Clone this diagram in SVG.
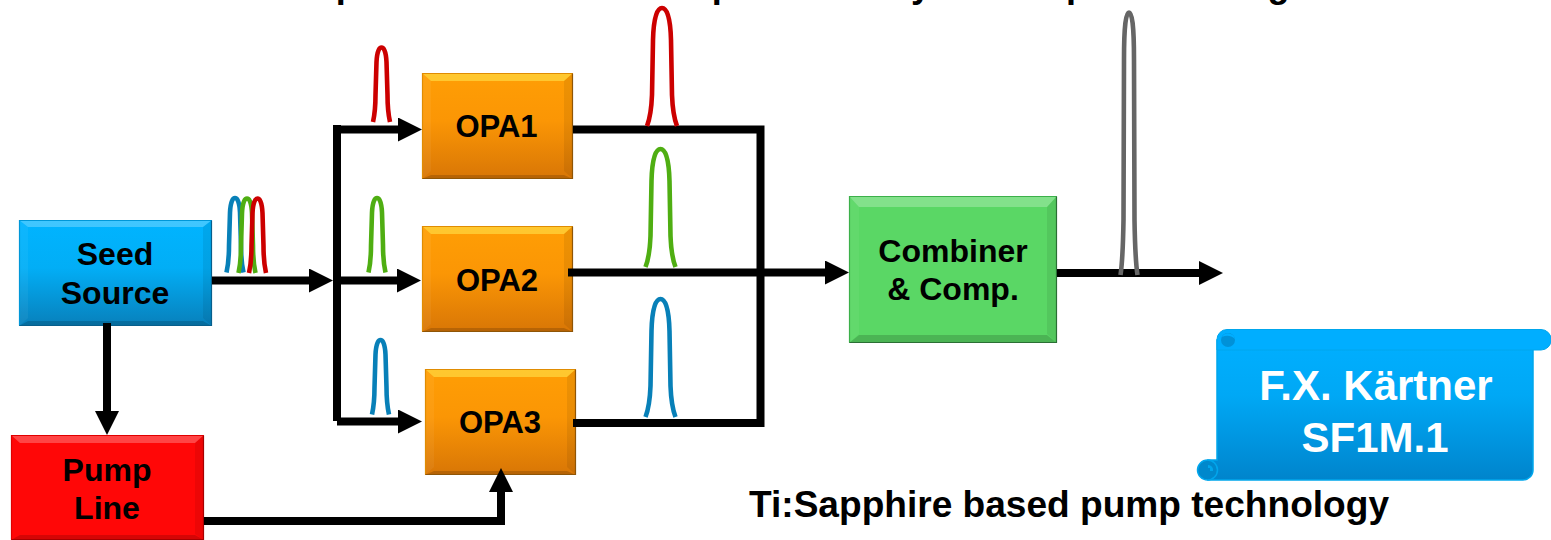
<svg xmlns="http://www.w3.org/2000/svg" xmlns:xlink="http://www.w3.org/1999/xlink" width="1551" height="540" viewBox="0 0 1551 540">
<style>
text{font-family:"Liberation Sans",Arial,sans-serif;font-weight:700;fill:#000}
.c{text-anchor:middle}
.lb{font-size:32px}
.op{font-size:31px}
.w{fill:#fff;font-size:42px;text-anchor:middle}
.cut{font-size:36px}
.wire{fill:none;stroke:#000;stroke-width:8;stroke-linejoin:miter}
.p{fill:none;stroke-width:4.600}
.red{stroke:#cc0000}.grn{stroke:#4fae12}.blu{stroke:#0880b8}.gry{stroke:#666}
.hi{fill:#fff;opacity:.25}.lo{fill:#000;opacity:.16}.sd{fill:#000;opacity:.07}.lf{fill:#fff;opacity:.05}
.e{fill:none;stroke-width:1.200}
.yl{fill:#ffd23a;opacity:.8}
.otl{stroke:#e08c02}.orb{stroke:#8f5506}
</style>
<defs>
<marker id="ah" viewBox="0 0 24 24" markerUnits="userSpaceOnUse" markerWidth="24" markerHeight="24" refX="0" refY="12" orient="auto"><path d="M0 0L24 12L0 24Z" fill="#000"/></marker>
<linearGradient id="gO" x1="0" y1="0" x2="0" y2="1"><stop offset="0" stop-color="#ff9e05"/><stop offset=".45" stop-color="#fb9605"/><stop offset="1" stop-color="#d87606"/></linearGradient>
<linearGradient id="gB" x1="0" y1="0" x2="0" y2="1"><stop offset="0" stop-color="#00b4ff"/><stop offset=".45" stop-color="#02aef6"/><stop offset="1" stop-color="#0880bb"/></linearGradient>
<linearGradient id="gS" x1="0" y1="0" x2="0" y2="1"><stop offset="0" stop-color="#00afff"/><stop offset=".4" stop-color="#00a8f5"/><stop offset="1" stop-color="#0084cc"/></linearGradient>
<path id="ps" d="M-8.500 74.500C-6.500 65.500-6 57.500-6 47.500L-5 14.500C-4.500 4.500-2.500 0 0 0C2.500 0 4.500 4.500 5 14.500L6 47.500C6 57.500 6.500 65.500 8.500 74.500"/>
<path id="pl" d="M-15 118C-11.500 109-10.500 100-10 87L-9 32C-8.500 12-5.500 0 0 0C5.500 0 8.500 12 9 32L10 87C10.500 100 11.500 109 15 118"/>
</defs>

<g id="title-fragments">
<text class="cut" x="335.700" y="-3">p</text>
<text class="cut" x="711.700" y="-3">p</text>
<text class="cut" x="911" y="-3">y</text>
<text class="cut" x="1066" y="-3">p</text>
<text class="cut" x="1267.500" y="-3">g</text>
</g>

<g id="seed-source">
<rect x="19" y="220" width="193" height="106" fill="url(#gB)"/>
<path class="hi" d="M19 220H212L203 227H28Z"/><path class="lf" d="M19 220L28 227V318L19 326Z"/>
<path class="sd" d="M212 220L203 227V318L212 326Z"/><path class="lo" d="M19 326L28 321H203L212 326Z"/>
<path class="e" stroke="#0097d8" d="M19.500 325.500V220.500H211.500"/><path class="e" stroke="#075f8c" d="M211.500 220.500V325.500H19.500"/>
<text class="c lb" x="115" y="264.500">Seed</text><text class="c lb" x="115" y="304">Source</text>
</g>
<g id="pump-line">
<rect x="11" y="435" width="193" height="105" fill="#ff0707"/>
<path class="hi" d="M11 435H204L195 443H20Z"/><path class="sd" d="M204 435L195 443V534L204 540Z"/>
<path class="lo" d="M11 540L20 535H195L204 540Z"/>
<path class="e" stroke="#e00000" d="M11.500 539.500V435.500H203.500"/><path class="e" stroke="#a80000" d="M203.500 435.500V539.500H11.500"/>
<text class="c lb" x="107" y="481">Pump</text><text class="c lb" x="107" y="519">Line</text>
</g>
<g id="opa1">
<rect x="422" y="73" width="151" height="106" fill="url(#gO)"/>
<path class="yl" d="M422 73H573L564 81H431Z"/><path class="lf" d="M422 73L431 81V171L422 179Z"/>
<path class="sd" d="M573 73L564 81V171L573 179Z"/><path class="lo" d="M422 179L431 175H564L573 179Z"/>
<path class="e otl" d="M422.500 178.500V73.500H572.500"/><path class="e orb" d="M572.500 73.500V178.500H422.500"/>
<text class="c op" x="496.500" y="137">OPA1</text>
</g>
<g id="opa2">
<rect x="422" y="226" width="151" height="106" fill="url(#gO)"/>
<path class="yl" d="M422 226H573L564 234H431Z"/><path class="lf" d="M422 226L431 234V324L422 332Z"/>
<path class="sd" d="M573 226L564 234V324L573 332Z"/><path class="lo" d="M422 332L431 328H564L573 332Z"/>
<path class="e otl" d="M422.500 331.500V226.500H572.500"/><path class="e orb" d="M572.500 226.500V331.500H422.500"/>
<text class="c op" x="497" y="290.500">OPA2</text>
</g>
<g id="opa3">
<rect x="425" y="369" width="151" height="106" fill="url(#gO)"/>
<path class="yl" d="M425 369H576L567 377H434Z"/><path class="lf" d="M425 369L434 377V467L425 475Z"/>
<path class="sd" d="M576 369L567 377V467L576 475Z"/><path class="lo" d="M425 475L434 471H567L576 475Z"/>
<path class="e otl" d="M425.500 474.500V369.500H575.500"/><path class="e orb" d="M575.500 369.500V474.500H425.500"/>
<text class="c op" x="500" y="433">OPA3</text>
</g>
<g id="combiner">
<rect x="849" y="196" width="208" height="147" fill="#5ad765"/>
<path class="hi" d="M849 196H1057L1047 207H859Z"/><path class="lf" d="M849 196L859 207V334L849 343Z"/>
<path class="sd" d="M1057 196L1047 207V334L1057 343Z"/><path class="lo" d="M849 343L859 335H1047L1057 343Z"/>
<path class="e" stroke="#3cb04a" d="M849.500 342.500V196.500H1056.500"/><path class="e" stroke="#2a6f34" d="M1056.500 196.500V342.500H849.500"/>
<text class="c lb" x="953" y="261.500">Combiner</text><text class="c lb" x="953" y="299.500">&amp; Comp.</text>
</g>

<g id="connectors">
<path class="wire" d="M212 280.500H309" marker-end="url(#ah)"/>
<path class="wire" d="M337 125V421"/>
<path class="wire" d="M333 129.500H398" marker-end="url(#ah)"/>
<path class="wire" d="M337 280.500H397" marker-end="url(#ah)"/>
<path class="wire" d="M337 421.500H398" marker-end="url(#ah)"/>
<path class="wire" d="M573 129.500H760.500V423H573"/>
<path class="wire" d="M568 272.500H825" marker-end="url(#ah)"/>
<path class="wire" d="M1057 273H1199" marker-end="url(#ah)"/>
<path class="wire" d="M107 323V411" marker-end="url(#ah)"/>
<path class="wire" d="M204 521H501V492" marker-end="url(#ah)"/>
</g>

<g id="pulses">
<use href="#ps" class="p blu" x="235" y="198"/>
<use href="#ps" class="p grn" x="247" y="198.500"/>
<use href="#ps" class="p red" x="257.500" y="198.500"/>
<use href="#ps" class="p red" x="381.500" y="47.500"/>
<use href="#ps" class="p grn" x="377" y="198"/>
<use href="#ps" class="p blu" x="380.500" y="340"/>
<use href="#pl" class="p red" x="662" y="8"/>
<use href="#pl" class="p grn" x="660.500" y="149"/>
<use href="#pl" class="p blu" x="660.500" y="299"/>
<path class="p gry" d="M1120.500 275C1122.500 262 1123 250 1123.500 220L1124 60C1124 25 1126 12.500 1129 12.500C1132 12.500 1134 25 1134 60L1134.500 220C1135 250 1135.500 262 1137.500 275"/>
</g>

<g id="scroll">
<path fill="url(#gS)" stroke="#00a6ec" stroke-width="1.500" d="M1217 340H1533V470A10 10 0 0 1 1523 480H1208V460H1217Z"/>
<path fill="#00aeff" stroke="#00a6ec" stroke-width="1" d="M1227 329.500H1541A10 10 0 0 1 1541 350H1217V339.500A10 10 0 0 1 1227 329.500Z"/>
<circle cx="1228" cy="340" r="7" fill="#0091d8"/><path fill="#00aeff" d="M1222 337A7 7 0 0 1 1235 339C1231 335 1226 335 1222 337Z"/>
<circle cx="1207.500" cy="470" r="10" fill="#0088cc" stroke="#00a6ec" stroke-width="1.500"/>
<path fill="#00a6ec" d="M1208 465A5 5 0 0 1 1213 471H1210V468H1208Z"/>
<text class="w" x="1376" y="400">F.X. Kärtner</text>
<text class="w" x="1375" y="451.500">SF1M.1</text>
</g>
<g id="caption"><text x="749" y="517" font-size="37.100">Ti:Sapphire based pump technology</text></g>
</svg>
